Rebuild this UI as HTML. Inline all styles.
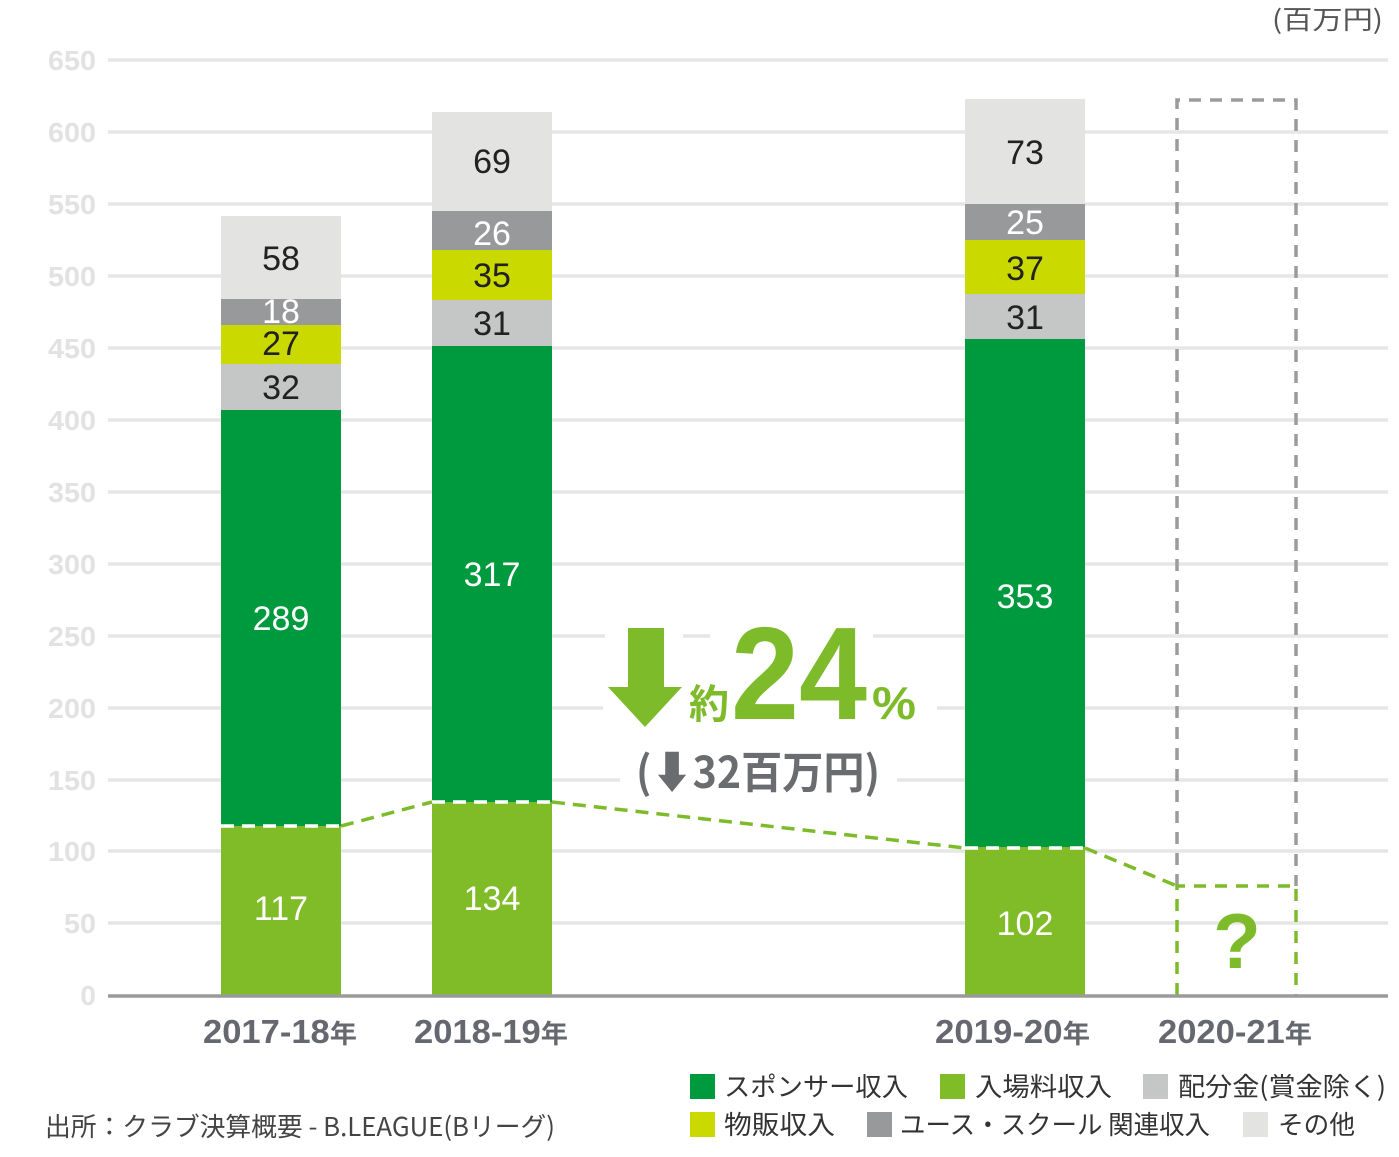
<!DOCTYPE html>
<html><head><meta charset="utf-8">
<style>
html,body{margin:0;padding:0;background:#fff;}
svg{display:block;}
text{font-family:"Liberation Sans","Noto Sans CJK JP",sans-serif;}
.jp{font-family:"Noto Sans CJK JP","Liberation Sans",sans-serif;}
</style></head>
<body>
<svg width="1399" height="1157" viewBox="0 0 1399 1157" xmlns="http://www.w3.org/2000/svg">
<rect width="1399" height="1157" fill="#fff"/>
<!-- unit -->
<text class="jp" x="1272" y="29" font-size="26" fill="#555" textLength="111" lengthAdjust="spacingAndGlyphs">(百万円)</text>
<!-- gridlines -->
<g stroke="#e6e6e6" stroke-width="3.5">
<line x1="108" x2="1388" y1="60" y2="60"/>
<line x1="108" x2="1388" y1="132" y2="132"/>
<line x1="108" x2="1388" y1="204" y2="204"/>
<line x1="108" x2="1388" y1="276" y2="276"/>
<line x1="108" x2="1388" y1="348" y2="348"/>
<line x1="108" x2="1388" y1="420" y2="420"/>
<line x1="108" x2="1388" y1="492" y2="492"/>
<line x1="108" x2="1388" y1="564" y2="564"/>
<line x1="108" x2="1388" y1="636" y2="636"/>
<line x1="108" x2="1388" y1="708" y2="708"/>
<line x1="108" x2="1388" y1="780" y2="780"/>
<line x1="108" x2="1388" y1="851" y2="851"/>
<line x1="108" x2="1388" y1="923" y2="923"/>
</g>
<!-- y labels -->
<g font-size="28" font-weight="bold" fill="#e2e2e2" text-anchor="end">
<text x="96" y="70" textLength="48" lengthAdjust="spacingAndGlyphs">650</text>
<text x="96" y="142" textLength="48" lengthAdjust="spacingAndGlyphs">600</text>
<text x="96" y="214" textLength="48" lengthAdjust="spacingAndGlyphs">550</text>
<text x="96" y="286" textLength="48" lengthAdjust="spacingAndGlyphs">500</text>
<text x="96" y="358" textLength="48" lengthAdjust="spacingAndGlyphs">450</text>
<text x="96" y="430" textLength="48" lengthAdjust="spacingAndGlyphs">400</text>
<text x="96" y="502" textLength="48" lengthAdjust="spacingAndGlyphs">350</text>
<text x="96" y="574" textLength="48" lengthAdjust="spacingAndGlyphs">300</text>
<text x="96" y="646" textLength="48" lengthAdjust="spacingAndGlyphs">250</text>
<text x="96" y="718" textLength="48" lengthAdjust="spacingAndGlyphs">200</text>
<text x="96" y="790" textLength="48" lengthAdjust="spacingAndGlyphs">150</text>
<text x="96" y="861" textLength="48" lengthAdjust="spacingAndGlyphs">100</text>
<text x="96" y="933" textLength="32" lengthAdjust="spacingAndGlyphs">50</text>
<text x="96" y="1005">0</text>
</g>
<!-- annotation white gaps -->
<g fill="#fff">
<rect x="605" y="630" width="78" height="12"/>
<rect x="710" y="630" width="163" height="12"/>
<rect x="603" y="702" width="334" height="12"/>
<rect x="620" y="774" width="277" height="12"/>
</g>
<!-- bar 1 -->
<rect x="221" y="216" width="120" height="83" fill="#e3e3e1"/>
<rect x="221" y="299" width="120" height="26" fill="#98999b"/>
<rect x="221" y="325" width="120" height="39" fill="#cada00"/>
<rect x="221" y="364" width="120" height="47" fill="#c5c6c6"/>
<rect x="221" y="410" width="120" height="417" fill="#009a3e"/>
<rect x="221" y="826" width="120" height="169" fill="#80bc28"/>
<!-- bar 2 -->
<rect x="432" y="112" width="120" height="100" fill="#e3e3e1"/>
<rect x="432" y="211" width="120" height="39" fill="#98999b"/>
<rect x="432" y="250" width="120" height="51" fill="#cada00"/>
<rect x="432" y="300" width="120" height="47" fill="#c5c6c6"/>
<rect x="432" y="346" width="120" height="457" fill="#009a3e"/>
<rect x="432" y="802" width="120" height="193" fill="#80bc28"/>
<!-- bar 3 -->
<rect x="965" y="99" width="120" height="105" fill="#e3e3e1"/>
<rect x="965" y="204" width="120" height="37" fill="#98999b"/>
<rect x="965" y="240" width="120" height="55" fill="#cada00"/>
<rect x="965" y="294" width="120" height="46" fill="#c5c6c6"/>
<rect x="965" y="339" width="120" height="509" fill="#009a3e"/>
<rect x="965" y="847" width="120" height="148" fill="#80bc28"/>
<!-- bar 4 dashed -->
<path d="M1177 886 V100 H1296 V886" fill="none" stroke="#9b9b9b" stroke-width="3.5" stroke-dasharray="12 9"/>
<path d="M1177 995 V886 H1296 V995" fill="none" stroke="#7dbb2b" stroke-width="3.5" stroke-dasharray="12 9"/>
<!-- dashed trend -->
<g stroke-width="3.5" stroke-dasharray="13 8" fill="none">
<line x1="221" y1="826" x2="341" y2="826" stroke="#fff"/>
<line x1="432" y1="802" x2="552" y2="802" stroke="#fff"/>
<line x1="965" y1="848" x2="1085" y2="848" stroke="#fff"/>
<polyline points="341,826 432,802" stroke="#7dbb2b"/>
<polyline points="552,802 965,848" stroke="#7dbb2b"/>
<polyline points="1085,848 1177,886" stroke="#7dbb2b"/>
</g>
<!-- baseline -->
<line x1="108" x2="1388" y1="996" y2="996" stroke="#9a9a9a" stroke-width="3.5"/>
<!-- bar labels -->
<g font-size="34" text-anchor="middle" fill="#222">
<text x="281" y="270">58</text>
<text x="281" y="323" fill="#fff">18</text>
<text x="281" y="355">27</text>
<text x="281" y="399">32</text>
<text x="281" y="630" fill="#fff">289</text>
<text x="281" y="920" fill="#fff">117</text>
<text x="492" y="173">69</text>
<text x="492" y="245" fill="#fff">26</text>
<text x="492" y="287">35</text>
<text x="492" y="335">31</text>
<text x="492" y="586" fill="#fff">317</text>
<text x="492" y="910" fill="#fff">134</text>
<text x="1025" y="164">73</text>
<text x="1025" y="234" fill="#fff">25</text>
<text x="1025" y="280">37</text>
<text x="1025" y="329">31</text>
<text x="1025" y="608" fill="#fff">353</text>
<text x="1025" y="935" fill="#fff">102</text>
</g>
<!-- question mark -->
<text x="1237" y="968" font-size="78" font-weight="bold" fill="#7dbb2b" text-anchor="middle">?</text>
<!-- annotation -->
<path d="M628 628 H664 V687 H682 L645 727 L608 687 H628 Z" fill="#7dbb2b"/>
<text class="jp" x="689" y="718" font-size="40" font-weight="bold" fill="#7dbb2b">約</text>
<text x="731" y="719" font-size="132" font-weight="bold" fill="#7dbb2b" textLength="136" lengthAdjust="spacingAndGlyphs">24</text>
<text x="872" y="719" font-size="46" font-weight="bold" fill="#7dbb2b" textLength="44" lengthAdjust="spacingAndGlyphs">%</text>
<text class="jp" x="636" y="788" font-size="44" font-weight="bold" fill="#6b6c70" textLength="244" lengthAdjust="spacingAndGlyphs">(⬇32百万円)</text>
<!-- x labels -->
<g font-weight="bold" fill="#666870" font-size="33">
<text x="203" y="1043" textLength="154" lengthAdjust="spacingAndGlyphs">2017-18<tspan class="jp" font-size="26">年</tspan></text>
<text x="414" y="1043" textLength="154" lengthAdjust="spacingAndGlyphs">2018-19<tspan class="jp" font-size="26">年</tspan></text>
<text x="935" y="1043" textLength="155" lengthAdjust="spacingAndGlyphs">2019-20<tspan class="jp" font-size="26">年</tspan></text>
<text x="1158" y="1043" textLength="154" lengthAdjust="spacingAndGlyphs">2020-21<tspan class="jp" font-size="26">年</tspan></text>
</g>
<!-- legend -->
<rect x="690" y="1074" width="25" height="25" fill="#009a3e"/>
<rect x="940" y="1074" width="25" height="25" fill="#80bc28"/>
<rect x="1143" y="1074" width="25" height="25" fill="#c5c6c6"/>
<rect x="690" y="1112" width="25" height="25" fill="#cada00"/>
<rect x="867" y="1112" width="25" height="25" fill="#98999b"/>
<rect x="1243" y="1112" width="25" height="25" fill="#e3e3e1"/>
<g class="jp" font-size="26" fill="#333">
<text class="jp" x="724" y="1096" textLength="184" lengthAdjust="spacingAndGlyphs">スポンサー収入</text>
<text class="jp" x="975" y="1096" textLength="137" lengthAdjust="spacingAndGlyphs">入場料収入</text>
<text class="jp" x="1178" y="1096" textLength="208" lengthAdjust="spacingAndGlyphs">配分金(賞金除く)</text>
<text class="jp" x="724" y="1134" textLength="111" lengthAdjust="spacingAndGlyphs">物販収入</text>
<text class="jp" x="900" y="1134" textLength="310" lengthAdjust="spacingAndGlyphs">ユース・スクール 関連収入</text>
<text class="jp" x="1278" y="1134" textLength="77" lengthAdjust="spacingAndGlyphs">その他</text>
</g>
<!-- source -->
<text class="jp" x="45" y="1136" font-size="26" fill="#444" textLength="510" lengthAdjust="spacingAndGlyphs">出所：クラブ決算概要 - B.LEAGUE(Bリーグ)</text>
</svg>
</body></html>
